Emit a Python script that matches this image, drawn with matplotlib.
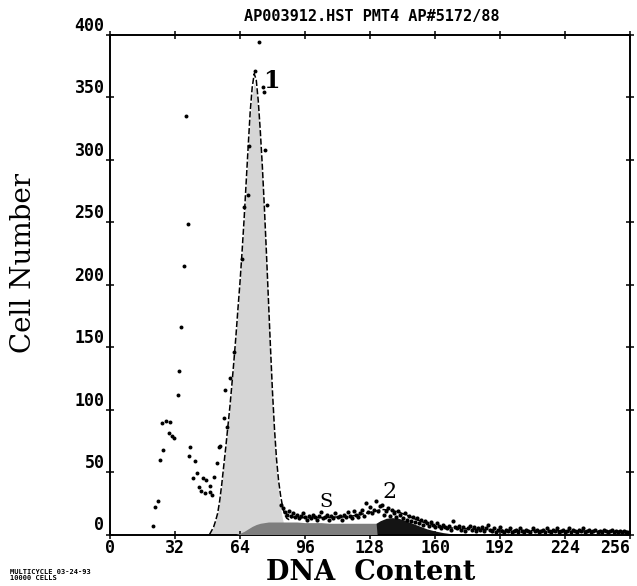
import matplotlib
matplotlib.use('Agg')
import matplotlib.pyplot as plt

# ---------------- data ----------------
title = 'AP003912.HST PMT4 AP#5172/88'
xticks = [0, 32, 64, 96, 128, 160, 192, 224, 256]
yticks = [0, 50, 100, 150, 200, 250, 300, 350, 400]

# raw histogram points (debris + G1 peak region)
debris_x = [21.4, 22.0, 23.4, 24.4, 25.5, 26.0, 27.5, 28.8, 29.3, 30.3, 31.6, 33.3, 33.8,
            35.1, 36.5, 37.2, 38.2, 39.0, 39.4, 40.7, 41.7, 43.0, 43.8, 45.0, 45.8, 46.8,
            47.4, 49.0, 49.4, 50.3, 51.4, 52.7, 53.5, 54.3, 55.9, 56.8, 57.6, 59.1, 60.9,
            64.9, 66.2, 67.9, 68.5, 71.3, 73.5, 75.1, 75.6, 76.3, 77.4]
debris_y = [7, 22, 27, 60, 89, 68, 91, 81, 90, 79, 77, 112, 131,
            166, 215, 335, 249, 63, 70, 45, 59, 49, 38, 35, 45, 33,
            44, 39, 34, 32, 46, 57, 70, 71, 93, 116, 86, 125, 146,
            221, 262, 272, 311, 371, 394, 358, 354, 308, 264]

# raw histogram counts, one per channel from channel 84 to 255
chan_start = 84
chan_counts = [24, 21, 18, 16, 19, 15, 17, 14, 16, 13, 15, 17, 14, 12, 15, 13,
               16, 14, 12, 15, 18, 13, 14, 16, 12, 15, 13, 17, 14, 15, 12, 16,
               14, 18, 15, 13, 19, 16, 14, 17, 20, 15, 25, 18, 22, 17, 20, 27,
               19, 23, 24, 16, 19, 21, 15, 20, 17, 14, 19, 16, 13, 17, 12, 15,
               11, 14, 10, 13, 9, 12, 8, 11, 9, 7, 10, 8, 6, 9, 7, 5,
               8, 6, 5, 7, 4, 11, 6, 5, 7, 4, 6, 3, 5, 7, 4, 6,
               3, 5, 4, 6, 3, 5, 8, 4, 3, 5, 2, 4, 6, 3, 2, 4,
               3, 5, 2, 3, 4, 2, 5, 3, 2, 4, 3, 2, 5, 3, 4, 2,
               3, 4, 2, 5, 3, 2, 4, 3, 5, 2, 3, 4, 2, 3, 5, 2,
               4, 3, 2, 4, 3, 5, 2, 3, 4, 2, 3, 4, 2, 3, 2, 4,
               3, 2, 3, 4, 2, 3, 2, 3, 2, 3, 2, 1]

# G1 component (channels 49..88)
g1_x = list(range(49, 89))
g1_y = [0, 3, 6, 11, 17, 27, 40, 55, 70, 86, 102, 120, 139, 159, 180, 201, 224, 250, 278, 306,
        333, 352, 362, 356, 338, 314, 286, 252, 216, 178, 140, 104, 74, 50, 33, 21, 12, 5, 1, 0]

# S-phase component
s_x = [62, 64, 66, 68, 70, 72, 74, 76, 78, 80, 84, 88, 92, 96, 100, 104, 108, 112, 116, 120,
       124, 128, 131, 131.5]
s_y = [0, 1, 2.5, 4.5, 6.5, 8, 9, 9.5, 10, 10, 10, 10, 10, 9.5, 9.5, 9.5, 9, 9, 9, 9,
       9, 9, 9, 0]

# G2 component
g2_x = [110, 114, 118, 122, 126, 130, 133, 136, 139, 142, 145, 148, 152, 156, 160, 164, 168, 172]
g2_y = [0, 0.5, 1.5, 3, 5, 8, 11, 13, 13.5, 13, 11.5, 9.5, 7, 4.5, 2.8, 1.5, 0.6, 0]

# total model fit (dashed)
fit_x = list(range(49, 89)) + [90, 94, 98, 102, 106, 110, 114, 118, 122, 126, 130, 134, 138,
                               142, 146, 150, 154, 158, 162, 166, 170, 180, 190, 200, 210,
                               220, 230, 240, 250, 256]
fit_y = [0, 3, 6, 11, 17, 27, 40, 55, 70, 86, 102, 120, 139, 159, 181, 202, 226, 252, 281, 310,
         338, 358, 369, 364, 347, 323, 295, 262, 226, 188, 150, 114, 84, 60, 43, 31, 22, 16, 13, 12,
         14, 13.5, 13.5, 13.5, 13.5, 14, 14, 14.5, 15.5, 17, 18.5, 20, 19.5,
         18, 15.5, 12.5, 10, 8, 6.5, 5.5, 5, 4.2, 3.6, 3.3, 3.1,
         3, 2.9, 2.7, 2.6, 2.5]

# ---------------- figure ----------------
W, H = 637, 586
fig = plt.figure(figsize=(W / 100, H / 100), dpi=100)
fig.patch.set_facecolor('white')
ax = fig.add_axes([110 / W, 51.5 / H, 520 / W, 499.5 / H])

ax.fill_between(g1_x, g1_y, color='#d6d6d6', lw=0, zorder=1)
ax.fill_between(g2_x, g2_y, color='#141414', lw=0, zorder=2)
ax.fill_between(s_x, s_y, color='#7e7e7e', lw=0, zorder=3)
ax.plot(fit_x, fit_y, color='black', lw=1.1, ls=(0, (4, 1.5)), zorder=4)

chan_x = list(range(chan_start, chan_start + len(chan_counts)))
ax.scatter(debris_x, debris_y, s=8, color='black', lw=0, zorder=5)
ax.scatter(chan_x, chan_counts, s=9, color='black', lw=0, zorder=5)

ax.set_xlim(0, 256)
ax.set_ylim(0, 400)
ax.set_xticks(xticks)
ax.set_yticks(yticks)
ax.set_xticklabels([str(v) for v in xticks])
ax.set_yticklabels([str(v) for v in yticks])
for sp in ax.spines.values():
    sp.set_linewidth(1.4)
ax.tick_params(direction='inout', length=6, width=1.1, top=True, right=True,
               labeltop=False, labelright=False, pad=1)
ax.tick_params(axis='x', pad=0)
for lbl in ax.get_xticklabels() + ax.get_yticklabels():
    lbl.set_fontfamily('DejaVu Sans Mono')
    lbl.set_fontweight('bold')
    lbl.set_fontsize(12)
for lbl in ax.get_yticklabels():
    lbl.set_verticalalignment('bottom')
ax.get_xticklabels()[-1].set_horizontalalignment('right')

# peak labels
ax.text(79.2, 363, '1', family='DejaVu Serif', weight='bold', fontsize=17, ha='center', va='center')
ax.text(106.3, 26, 'S', family='DejaVu Serif', fontsize=14, ha='center', va='center')
ax.text(137.5, 34, '2', family='DejaVu Serif', fontsize=16, ha='center', va='center')

# texts
fig.text(372 / W, 1 - 16 / H, title, family='DejaVu Sans Mono', weight='bold', fontsize=11,
         ha='center', va='center')
fig.text(371 / W, 1 - 580 / H, 'DNA  Content', family='DejaVu Serif', weight='bold',
         fontsize=19.5, ha='center', va='baseline')
fig.text(24 / W, 1 - 263 / H, 'Cell Number', family='DejaVu Serif', fontsize=20,
         rotation=90, ha='center', va='center')
fig.text(10 / W, 1 - 575 / H, 'MULTICYCLE 03-24-93\n10000 CELLS', family='DejaVu Sans Mono',
         weight='bold', fontsize=5, ha='left', va='center', linespacing=0.95)

fig.savefig('out.png', dpi=100)
